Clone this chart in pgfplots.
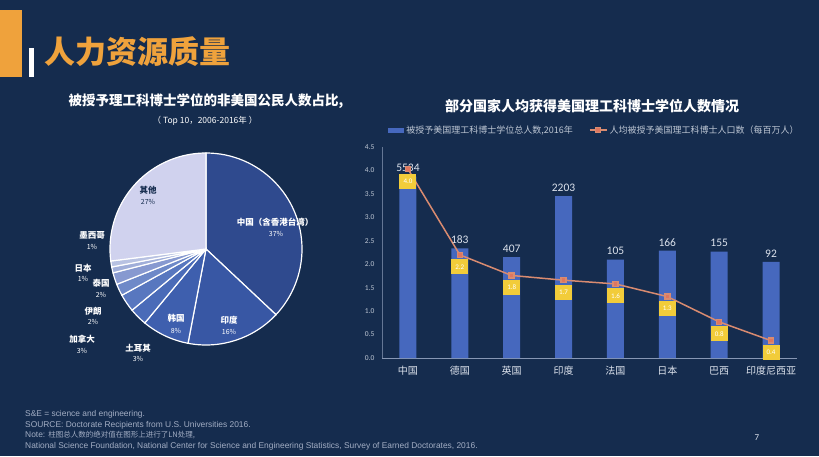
\documentclass[border=0pt]{standalone}
\usepackage{pgfplots}
\pgfplotsset{compat=1.18}
\usepackage{fontspec}
\setmainfont{Noto Sans CJK SC}
\newfontfamily\carl{Carlito}
\newfontfamily\lib{Liberation Sans}
\definecolor{bg}{HTML}{152C4E}
\definecolor{titleor}{HTML}{EFA23C}
\definecolor{barblue}{HTML}{4668BE}
\definecolor{lineor}{HTML}{D98B70}
\definecolor{boxy}{HTML}{F2CC3A}
\definecolor{txt}{HTML}{DCE2EC}
\definecolor{axc}{HTML}{8797B4}
\definecolor{foot}{HTML}{A3AEC4}
\definecolor{pA}{HTML}{2F4A8E}
\definecolor{pB}{HTML}{3857A4}
\definecolor{pC}{HTML}{3E5FAE}
\definecolor{pD}{HTML}{4A6BB8}
\definecolor{pE}{HTML}{5877BF}
\definecolor{pF}{HTML}{6E89C8}
\definecolor{pG}{HTML}{8799D0}
\definecolor{pH}{HTML}{A0AED9}
\definecolor{pI}{HTML}{B8C2E2}
\definecolor{pJ}{HTML}{D0D2EE}
\begin{document}
\begin{tikzpicture}[x=1pt,y=1pt]
\fill[bg] (0,0) rectangle (819,456);
\fill[titleor] (0,379) rectangle (22,446);
\fill[white] (29,379) rectangle (34,408);
\node[anchor=west, text=titleor, font=\fontsize{31}{31}\selectfont\bfseries, inner sep=0] at (44,404) {人力资源质量};
% pie titles
\node[text=white, font=\fontsize{13.5}{14}\selectfont\bfseries, inner sep=0] at (206,355) {被授予理工科博士学位的非美国公民人数占比,};
\node[text=white, font=\fontsize{8.5}{9}\selectfont, inner sep=0] at (205,335) {（ Top 10，2006-2016年 ）};
% pie: shares in percent, clockwise from 12 o'clock
\begin{axis}[hide axis, x=96pt, y=96pt, xmin=-1, xmax=1, ymin=-1, ymax=1,
  at={(206pt,207pt)}, anchor=center, clip=false]
\fill[pA, draw=white, line width=1.2pt] (axis cs:0,0) -- ++({90-3.6*0}:96pt) arc[start angle={90-3.6*0}, end angle={90-3.6*37}, radius=96pt] -- cycle; % China 37
\fill[pB, draw=white, line width=1.2pt] (axis cs:0,0) -- ++({90-3.6*37}:96pt) arc[start angle={90-3.6*37}, end angle={90-3.6*53}, radius=96pt] -- cycle; % India 16
\fill[pC, draw=white, line width=1.2pt] (axis cs:0,0) -- ++({90-3.6*53}:96pt) arc[start angle={90-3.6*53}, end angle={90-3.6*61}, radius=96pt] -- cycle; % Korea 8
\fill[pD, draw=white, line width=1.2pt] (axis cs:0,0) -- ++({90-3.6*61}:96pt) arc[start angle={90-3.6*61}, end angle={90-3.6*64}, radius=96pt] -- cycle; % Turkey 3
\fill[pE, draw=white, line width=1.2pt] (axis cs:0,0) -- ++({90-3.6*64}:96pt) arc[start angle={90-3.6*64}, end angle={90-3.6*67}, radius=96pt] -- cycle; % Canada 3
\fill[pF, draw=white, line width=1.2pt] (axis cs:0,0) -- ++({90-3.6*67}:96pt) arc[start angle={90-3.6*67}, end angle={90-3.6*69}, radius=96pt] -- cycle; % Iran 2
\fill[pG, draw=white, line width=1.2pt] (axis cs:0,0) -- ++({90-3.6*69}:96pt) arc[start angle={90-3.6*69}, end angle={90-3.6*71}, radius=96pt] -- cycle; % Thailand 2
\fill[pH, draw=white, line width=1.2pt] (axis cs:0,0) -- ++({90-3.6*71}:96pt) arc[start angle={90-3.6*71}, end angle={90-3.6*72}, radius=96pt] -- cycle; % Japan 1
\fill[pI, draw=white, line width=1.2pt] (axis cs:0,0) -- ++({90-3.6*72}:96pt) arc[start angle={90-3.6*72}, end angle={90-3.6*73}, radius=96pt] -- cycle; % Mexico 1
\fill[pJ, draw=white, line width=1.2pt] (axis cs:0,0) -- ++({90-3.6*73}:96pt) arc[start angle={90-3.6*73}, end angle={90-3.6*100}, radius=96pt] -- cycle; % Others 27
\end{axis}
% pie labels
\begin{scope}[every node/.style={inner sep=0, font=\fontsize{8.5}{9}\selectfont\bfseries, text=white}]
\node at (275,234) {中国（含香港台湾）}; \node[font=\fontsize{7}{7}\selectfont] at (276,222) {37\%};
\node at (229,136) {印度}; \node[font=\fontsize{7}{7}\selectfont] at (229,124) {16\%};
\node at (176,138) {韩国}; \node[font=\fontsize{7}{7}\selectfont] at (176,125) {8\%};
\node at (138,108) {土耳其}; \node[font=\fontsize{7}{7}\selectfont] at (138,97) {3\%};
\node at (82,117) {加拿大}; \node[font=\fontsize{7}{7}\selectfont] at (82,105) {3\%};
\node at (93,145) {伊朗}; \node[font=\fontsize{7}{7}\selectfont] at (93,134) {2\%};
\node at (101,173) {泰国}; \node[font=\fontsize{7}{7}\selectfont] at (101,161) {2\%};
\node at (83,188) {日本}; \node[font=\fontsize{7}{7}\selectfont] at (83,177) {1\%};
\node at (92,221) {墨西哥}; \node[font=\fontsize{7}{7}\selectfont] at (92,209) {1\%};
\node[text=bg] at (148,266) {其他}; \node[text=bg, font=\fontsize{7}{7}\selectfont] at (148,254) {27\%};
\end{scope}
% right chart
\node[text=white, font=\fontsize{14}{14}\selectfont\bfseries, inner sep=0] at (592,350) {部分国家人均获得美国理工科博士学位人数情况};
\begin{axis}[
  at={(382pt,98pt)}, anchor=south west,
  width=415pt, height=211pt, scale only axis,
  xmin=-0.5, xmax=7.5, ymin=0, ymax=4.5,
  axis x line*=bottom, axis y line*=left,
  x axis line style={axc, line width=0.8pt},
  y axis line style={axc!70!bg, line width=0.6pt},
  major tick length=0pt,
  xtick={0,...,7},
  xticklabels={中国,德国,英国,印度,法国,日本,巴西,印度尼西亚},
  ytick={0,0.5,...,4.5},
  /pgf/number format/fixed, /pgf/number format/fixed zerofill, /pgf/number format/precision=1,
  /pgf/number format/assume math mode=true,
  y tick label style={font=\carl\fontsize{7.5}{8}\selectfont, text=txt!85!bg, xshift=-4pt},
  x tick label style={font=\fontsize{10}{10}\selectfont, text=txt, yshift=-5pt},
  clip=false,
  legend style={at={(0.512,1.08)}, anchor=center, draw=none, fill=none, text=txt!85!bg,
    font=\fontsize{9}{9}\selectfont, legend columns=2,
    /tikz/every even column/.append style={column sep=14pt}},
  legend cell align=left,
]
\addplot[ybar, bar width=17pt, fill=barblue, draw=none,
  legend image code/.code={\fill[barblue] (0pt,-2.5pt) rectangle (16pt,2.5pt);},
  nodes near coords, point meta=explicit symbolic,
  every node near coord/.append style={font=\carl\fontsize{11.5}{12}\selectfont, text=txt, yshift=1pt}]
  coordinates {(0,3.87)[5534] (1,2.34)[183] (2,2.15)[407] (3,3.45)[2203] (4,2.10)[105] (5,2.29)[166] (6,2.27)[155] (7,2.05)[92]};
\addlegendentry{被授予美国理工科博士学位总人数,2016年}
\addplot[lineor, line width=1.5pt, mark=square*, mark size=2.5pt, mark options={fill=lineor!85!red, draw=none},
  nodes near coords, point meta=explicit symbolic,
  nodes near coords align={anchor=center},
  every node near coord/.append style={anchor=center, yshift=-12pt, fill=boxy, minimum width=17pt, minimum height=15pt, inner sep=0pt, text=white, font=\carl\fontsize{7}{7}\selectfont}]
  coordinates {(0,4.03)[4.0] (1,2.20)[2.2] (2,1.76)[1.8] (3,1.66)[1.7] (4,1.58)[1.6] (5,1.31)[1.3] (6,0.77)[0.8] (7,0.37)[0.4]};
\addlegendentry{人均被授予美国理工科博士人口数（每百万人）}
\end{axis}
% footnotes
\begin{scope}[every node/.style={anchor=west, inner sep=0, text=foot, font=\lib\fontsize{8.4}{9}\selectfont}]
\node at (25,42) {S\&E = science and engineering.};
\node at (25,31) {SOURCE: Doctorate Recipients from U.S. Universities 2016.};
\node at (25,21) {Note: {\fontspec{Noto Sans CJK SC}\fontsize{7.5}{8}\selectfont 柱图总人数的绝对值在图形上进行了LN处理,}};
\node at (25,10) {National Science Foundation, National Center for Science and Engineering Statistics, Survey of Earned Doctorates, 2016.};
\end{scope}
\node[text=txt, font=\carl\fontsize{9}{9}\selectfont] at (757,18) {7};
\end{tikzpicture}
\end{document}
